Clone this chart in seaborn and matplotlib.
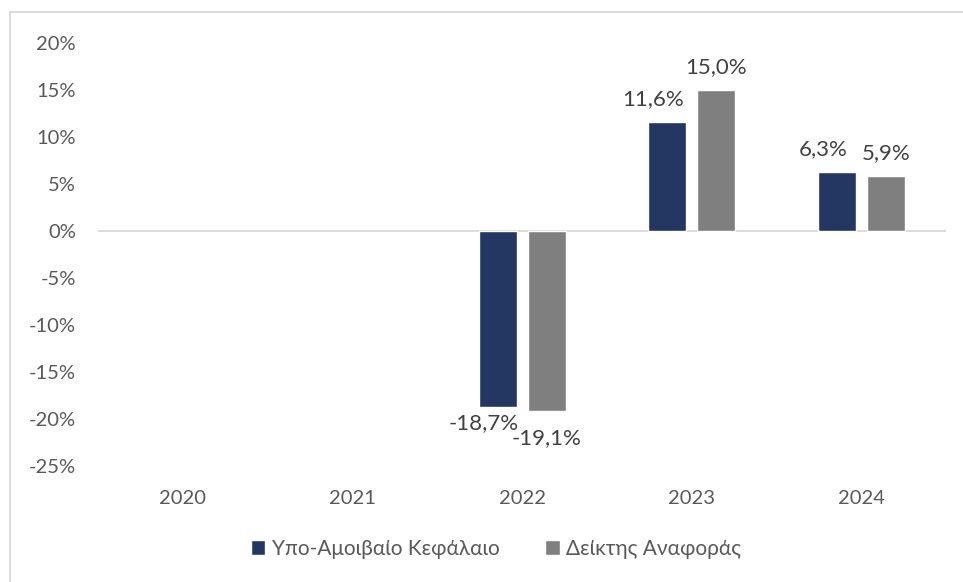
import numpy as np
import pandas as pd
import seaborn as sns
import matplotlib.pyplot as plt
from matplotlib.patches import Rectangle
from matplotlib.ticker import FuncFormatter

years = ["2020", "2021", "2022", "2023", "2024"]
series_names = ["Υπο-Αμοιβαίο Κεφάλαιο", "Δείκτης Αναφοράς"]
fund_returns = [np.nan, np.nan, -18.7, 11.6, 6.3]
benchmark_returns = [np.nan, np.nan, -19.1, 15.0, 5.9]
bar_colors = ["#243763", "#7f7f7f"]

df = pd.DataFrame({
    "year": years * 2,
    "series": [series_names[0]] * len(years) + [series_names[1]] * len(years),
    "value": fund_returns + benchmark_returns,
})

sns.set_style("white")
plt.rcParams["font.family"] = ["Lato", "Noto Sans", "DejaVu Sans"]

fig = plt.figure(figsize=(9.63, 5.82), dpi=100)
ax = fig.add_axes([0.1018, 0.1993, 0.8806, 0.7268])

sns.barplot(data=df, x="year", y="value", hue="series", order=years,
            hue_order=series_names, palette=bar_colors, width=0.578, gap=0.224,
            errorbar=None, saturation=1, ax=ax)

ax.set_ylim(-25, 20)
ax.set_yticks(np.arange(-25, 21, 5))
ax.yaxis.set_major_formatter(FuncFormatter(lambda v, p: f"{v:.0f}%"))
ax.set_xlabel("")
ax.set_ylabel("")
ax.tick_params(axis="both", length=0, labelsize=14.5, labelcolor="#595959")
ax.tick_params(axis="y", pad=16)
ax.tick_params(axis="x", pad=17)
for s in ax.spines.values():
    s.set_visible(False)
ax.axhline(0, color="#d9d9d9", lw=1.3, zorder=0)

# data labels (comma as decimal separator), first series nudged left like excel
for i, cont in enumerate(ax.containers):
    for bar in cont:
        h = bar.get_height()
        if np.isnan(h):
            continue
        x = bar.get_x() + bar.get_width() / 2
        txt = f"{h:.1f}%".replace(".", ",")
        dx = -10 if i == 0 else 0
        if h >= 0:
            dy = 16.5
        else:
            dy = -12 if i == 0 else -20
        ax.annotate(txt, (x, h), xytext=(dx, dy), textcoords="offset points",
                    ha="center", va="center", fontsize=16, color="#404040")

sns.move_legend(ax, "center", bbox_to_anchor=(0.515, 0.057),
                bbox_transform=fig.transFigure, ncol=2, frameon=False, title=None,
                fontsize=15, handlelength=0.7, handleheight=0.7,
                handletextpad=0.3, columnspacing=2.2)
for t in ax.get_legend().get_texts():
    t.set_color("#595959")

fig.add_artist(Rectangle((10 / 963, -0.05), 1.1, 1 - 12 / 582 + 0.05,
                         transform=fig.transFigure, fill=False,
                         edgecolor="#d9d9d9", lw=1.3))

fig.savefig("out.png", dpi=100)
